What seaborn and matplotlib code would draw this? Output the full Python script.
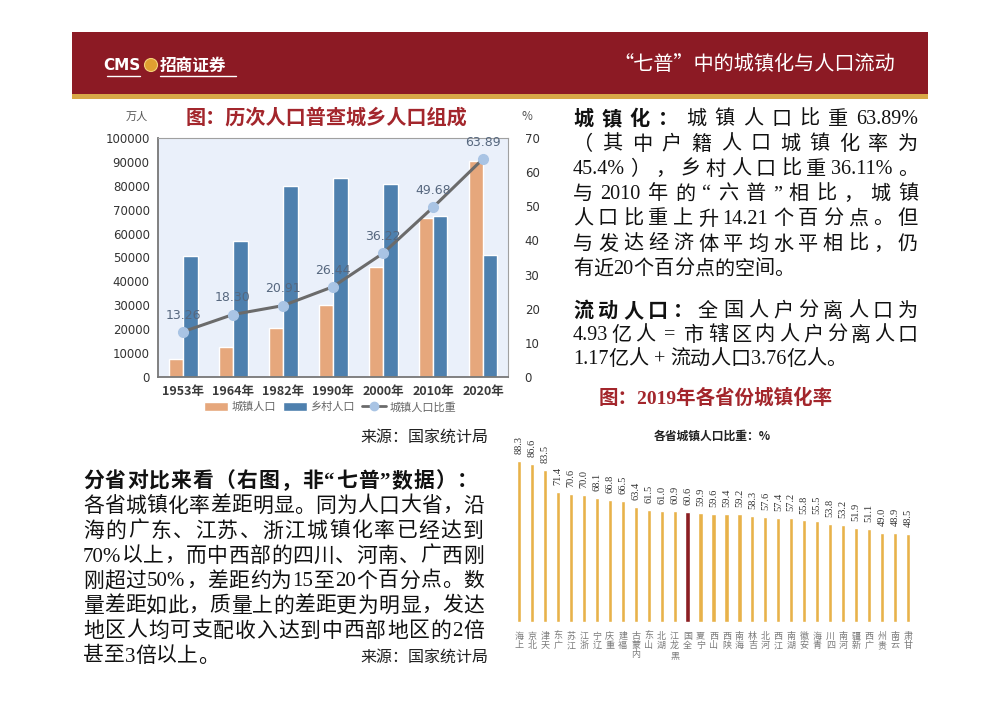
import numpy as np
import pandas as pd
import matplotlib
matplotlib.use("Agg")
import matplotlib.pyplot as plt
import seaborn as sns
from matplotlib.patches import Rectangle, Ellipse, Patch
from matplotlib.lines import Line2D

# ---------------- data ----------------
years = ['1953年', '1964年', '1982年', '1990年', '2000年', '2010年', '2020年']
urban_pop = [7726, 12710, 20658, 29971, 45844, 66557, 90199]
rural_pop = [50534, 56748, 79736, 83397, 80739, 67415, 50979]
urban_ratio = [13.26, 18.30, 20.91, 26.44, 36.22, 49.68, 63.89]
left_yticks = [0, 10000, 20000, 30000, 40000, 50000, 60000, 70000, 80000, 90000, 100000]
right_yticks = [0, 10, 20, 30, 40, 50, 60, 70]

provinces = ['上海', '北京', '天津', '广东', '江苏', '浙江', '辽宁', '重庆', '福建', '内蒙古',
             '山东', '湖北', '黑龙江', '全国', '宁夏', '山西', '陕西', '海南', '吉林', '河北',
             '江西', '湖南', '安徽', '青海', '四川', '河南', '新疆', '广西', '贵州', '云南', '甘肃']
urban_rate_2019 = [88.3, 86.6, 83.5, 71.4, 70.6, 70.0, 68.1, 66.8, 66.5, 63.4,
                   61.5, 61.0, 60.9, 60.6, 59.9, 59.6, 59.4, 59.2, 58.3, 57.6,
                   57.4, 57.2, 55.8, 55.5, 53.8, 53.2, 51.9, 51.1, 49.0, 48.9, 48.5]

# ---------------- style ----------------
sns.set_theme(style="white")
plt.rcParams['font.family'] = ['Noto Sans CJK SC', 'DejaVu Sans']
plt.rcParams['axes.unicode_minus'] = False
BODY = ['Liberation Serif', 'Noto Sans CJK SC']

W, H = 1000, 706
fig = plt.figure(figsize=(10, 7.06), dpi=100)
fig.patch.set_facecolor('white')
renderer = fig.canvas.get_renderer()


def fx(px):
    return px / W


def fy(py):
    return 1 - py / H


def axes_px(x0, y0, x1, y1):
    return fig.add_axes([fx(x0), fy(y1), (x1 - x0) / W, (y1 - y0) / H])


# ---------------- header ----------------
fig.add_artist(Rectangle((fx(72), fy(95)), (928 - 72) / W, (95 - 32) / H,
                         transform=fig.transFigure, facecolor='#8C1A24', edgecolor='none'))
fig.add_artist(Rectangle((fx(72), fy(99)), (928 - 72) / W, 5 / H,
                         transform=fig.transFigure, facecolor='#D8A847', edgecolor='none'))
fig.text(fx(140), fy(66), 'CMS', color='white', fontsize=11, fontweight='bold',
         family=['DejaVu Sans'], va='center', ha='right')
fig.add_artist(Line2D([fx(107), fx(140)], [fy(76), fy(76)], color='white', lw=1,
                      transform=fig.transFigure))
fig.add_artist(Ellipse((fx(151), fy(65)), 13 / W, 13 / H, transform=fig.transFigure,
                       facecolor='#E0A030', edgecolor='#F3D27A', lw=0.8))
fig.text(fx(160), fy(66), '招商证券', color='white', fontsize=12, fontweight='bold',
         va='center', ha='left')
fig.add_artist(Line2D([fx(160), fx(236)], [fy(76), fy(76)], color='white', lw=1,
                      transform=fig.transFigure))
fig.text(fx(895), fy(65), '“七普”中的城镇化与人口流动', color='white', fontsize=14.5,
         va='center', ha='right')

# ---------------- left chart ----------------
fig.text(fx(326), fy(117), '图：历次人口普查城乡人口组成', color='#A3262C', fontsize=14.5,
         fontweight='bold', ha='center', va='center')
fig.text(fx(137), fy(117), '万人', color='#555555', fontsize=8, ha='center', va='center')
fig.text(fx(527), fy(117), '%', color='#555555', fontsize=8.5, ha='center', va='center')

ax = axes_px(158, 138, 508, 377)
ax.set_facecolor('#EAF0FA')
df = pd.DataFrame({'year': years * 2,
                   'pop': urban_pop + rural_pop,
                   'type': ['城镇人口'] * len(years) + ['乡村人口'] * len(years)})
pal = {'城镇人口': '#E6A77C', '乡村人口': '#4E80AE'}
sns.barplot(data=df, x='year', y='pop', hue='type', palette=pal, width=0.58,
            saturation=1, legend=False, ax=ax, errorbar=None)
ax.set_ylim(0, 100000)
ax.set_yticks(left_yticks)
ax.set_yticklabels([str(v) for v in left_yticks], fontsize=8.5, color='#333333',
                   family=['DejaVu Sans'])
ax.set_xlabel('')
ax.set_ylabel('')
ax.set_xlim(-0.5, len(years) - 0.5)
ax.set_xticks(range(len(years)))
ax.set_xticklabels(years, fontsize=9, color='#3A3A3A', fontweight='bold')
ax.set_xticks(np.arange(-0.5, len(years), 1), minor=True)
ax.tick_params(axis='x', which='major', length=0, pad=6)
ax.tick_params(axis='x', which='minor', length=4, direction='in', color='#777777')
ax.tick_params(axis='y', length=0, pad=6)
for s in ['top', 'right']:
    ax.spines[s].set_color('#A0A0A0')
    ax.spines[s].set_linewidth(0.8)
for s in ['left', 'bottom']:
    ax.spines[s].set_color('#777777')
    ax.spines[s].set_linewidth(1.3)

ax2 = ax.twinx()
xs = np.arange(len(years))
ax2.plot(xs, urban_ratio, color='#6B6B6B', lw=2.2, marker='o', ms=7,
         mfc='#A9C4E4', mec='#A9C4E4', zorder=5)
for x, r in zip(xs, urban_ratio):
    ax2.annotate(f'{r:.2f}', (x, r), xytext=(0, 12), textcoords='offset points',
                 ha='center', va='center', fontsize=9, color='#56677E',
                 family=['DejaVu Sans'], zorder=6)
ax2.set_ylim(0, 70)
ax2.set_yticks(right_yticks)
ax2.set_yticklabels([str(v) for v in right_yticks], fontsize=8.5, color='#333333',
                    family=['DejaVu Sans'])
ax2.tick_params(axis='y', length=0, pad=12)
for s in ax2.spines.values():
    s.set_visible(False)

handles = [Patch(facecolor=pal['城镇人口']), Patch(facecolor=pal['乡村人口']),
           Line2D([], [], color='#6B6B6B', lw=2, marker='o', ms=6,
                  mfc='#A9C4E4', mec='#A9C4E4')]
fig.legend(handles, ['城镇人口', '乡村人口', '城镇人口比重'], loc='center',
           bbox_to_anchor=(fx(330), fy(407)), ncol=3, frameon=False, fontsize=8,
           labelcolor='#666666', handlelength=2.2, handleheight=0.8,
           columnspacing=0.6, handletextpad=0.3)
fig.text(fx(488), fy(437), '来源：国家统计局', fontsize=11.5, color='#222222',
         ha='right', va='center')


# ---------------- paragraph helper ----------------
def tokens(s):
    out, buf = [], ''
    for ch in s:
        if ord(ch) < 128:
            buf += ch
        else:
            if buf:
                out.append(buf)
                buf = ''
            out.append(ch)
    if buf:
        out.append(buf)
    return out


def para_line(x0, x1, y, parts, size, justify=True, color='#111111'):
    toks = []
    for txt, bold in parts:
        for t in tokens(txt):
            toks.append((t, bold))
    objs, widths = [], []
    for t, bold in toks:
        o = fig.text(0, 0, t, fontsize=size, fontweight='bold' if bold else 'normal',
                     family=BODY, color=color, ha='left', va='center')
        widths.append(o.get_window_extent(renderer).width)
        objs.append(o)
    gap = 0
    if justify and len(toks) > 1:
        gap = (x1 - x0 - sum(widths)) / (len(toks) - 1)
    x = x0
    for o, w in zip(objs, widths):
        o.set_position((fx(x), fy(y)))
        x += w + gap


# ---------------- right text ----------------
rx0, rx1 = 573, 918
para_line(rx0, rx1, 120, [('城镇化：', True), ('城镇人口比重63.89%', False)], 14.5)
para_line(rx0, rx1, 145, [('（其中户籍人口城镇化率为', False)], 14.5)
para_line(rx0, rx1, 170, [('45.4%），乡村人口比重36.11%。', False)], 14.5)
para_line(rx0, rx1, 195, [('与2010年的“六普”相比，城镇', False)], 14.5)
para_line(rx0, rx1, 220, [('人口比重上升14.21个百分点。但', False)], 14.5)
para_line(rx0, rx1, 245, [('与发达经济体平均水平相比，仍', False)], 14.5)
para_line(rx0, rx1, 270, [('有近20个百分点的空间。', False)], 14.5, justify=False)
para_line(rx0, rx1, 312, [('流动人口：', True), ('全国人户分离人口为', False)], 14.5)
para_line(rx0, rx1, 336, [('4.93亿人 = 市辖区内人户分离人口', False)], 14.5)
para_line(rx0, rx1, 360, [('1.17亿人 + 流动人口3.76亿人。', False)], 14.5, justify=False)

fig.text(fx(716), fy(398), '图：2019年各省份城镇化率', color='#A3262C', fontsize=14,
         fontweight='bold', family=BODY, ha='center', va='center')

# ---------------- bottom-left text ----------------
lx0, lx1 = 83, 484
para_line(lx0, 478, 482, [('分省对比来看（右图，非“七普”数据）：', True)], 15)
para_line(lx0, lx1, 507, [('各省城镇化率差距明显。同为人口大省，沿', False)], 15)
para_line(lx0, lx1, 532, [('海的广东、江苏、浙江城镇化率已经达到', False)], 15)
para_line(lx0, lx1, 557, [('70%以上，而中西部的四川、河南、广西刚', False)], 15)
para_line(lx0, lx1, 582, [('刚超过50%，差距约为15至20个百分点。数', False)], 15)
para_line(lx0, lx1, 607, [('量差距如此，质量上的差距更为明显，发达', False)], 15)
para_line(lx0, lx1, 632, [('地区人均可支配收入达到中西部地区的2倍', False)], 15)
para_line(lx0, lx1, 657, [('甚至3倍以上。', False)], 15, justify=False)
fig.text(fx(488), fy(657), '来源：国家统计局', fontsize=11.5, color='#222222',
         ha='right', va='center')

# ---------------- right-bottom chart ----------------
bx = axes_px(512.5, 430, 914.5, 622)
bx.set_facecolor('none')
colors = {p: ('#8B1E22' if p == '全国' else '#E8B24A') for p in provinces}
sns.barplot(x=provinces, y=urban_rate_2019, hue=provinces, palette=colors, width=0.32,
            saturation=1, legend=False, ax=bx, errorbar=None)
bx.set_ylim(0, 105.5)
bx.set_xlim(-0.5, len(provinces) - 0.5)
for c in bx.containers:
    bx.bar_label(c, fmt='%.1f', rotation=90, padding=5, fontsize=7.5,
                 color='#333333', family=['Liberation Serif'])
bx.set_yticks([])
bx.set_xticks(range(len(provinces)))
bx.set_xticklabels(['\n'.join(reversed(p)) for p in provinces], fontsize=6.5,
                   color='#7A7A7A', linespacing=1.05, va='top')
bx.tick_params(axis='x', length=0, pad=7)
for s in bx.spines.values():
    s.set_visible(False)
bx.set_xlabel('')
bx.set_ylabel('')
fig.text(fx(712), fy(436), '各省城镇人口比重：%', fontsize=8.5, fontweight='bold',
         color='#222222', ha='center', va='center')

fig.savefig('out.png', dpi=100, facecolor='white')
